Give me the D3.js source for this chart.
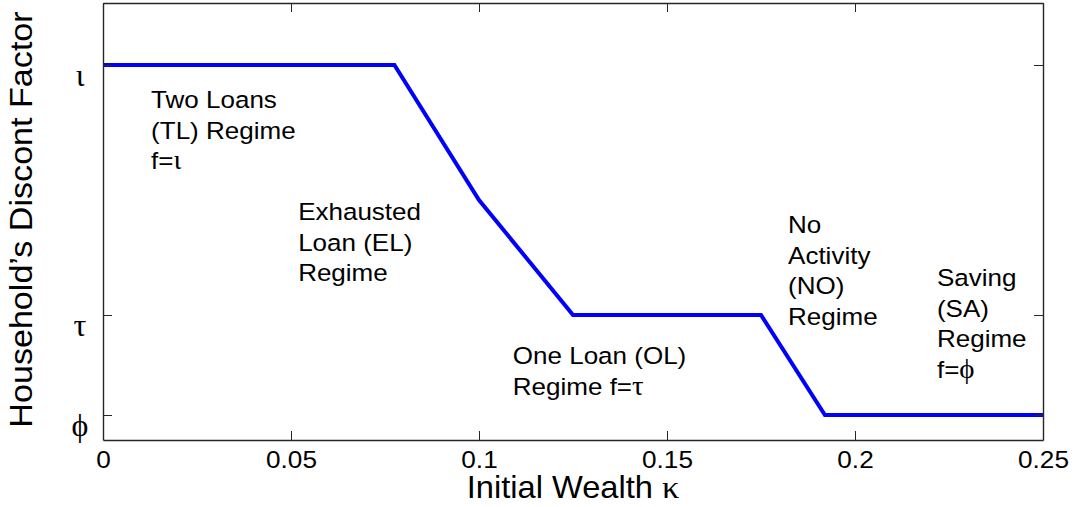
<!DOCTYPE html>
<html>
<head>
<meta charset="utf-8">
<script src="https://cdn.jsdelivr.net/npm/d3@7"></script>
<style>
  html, body { margin: 0; padding: 0; background: #fff; }
  svg { display: block; }
  text { font-family: Arial, "Liberation Sans", Helvetica, sans-serif; fill: #000; }
  .gk { font-family: "Liberation Serif", "DejaVu Serif", serif; }
</style>
</head>
<body>
<svg id="chart" width="1076" height="507"></svg>
<script>
// ---- data ----
const kappa = [0, 0.0775, 0.1, 0.125, 0.175, 0.192, 0.25];
const discount = [0.97, 0.97, 0.943, 0.92, 0.92, 0.90, 0.90];
const xTicks = [0, 0.05, 0.1, 0.15, 0.2, 0.25];
const xTickLabels = ["0", "0.05", "0.1", "0.15", "0.2", "0.25"];
const yTicks = [0.90, 0.92, 0.97];
const yTickLabels = ["ϕ", "τ", "ι"];
const regimeLines = [
  [["Two Loans"], ["(TL) Regime"], ["f=", "ι"]],
  [["Exhausted"], ["Loan (EL)"], ["Regime"]],
  [["One Loan (OL)"], ["Regime f=", "τ"]],
  [["No"], ["Activity"], ["(NO)"], ["Regime"]],
  [["Saving"], ["(SA)"], ["Regime"], ["f=", "ϕ"]]
];
const regimeX = [0.0128, 0.0519, 0.109, 0.1822, 0.2218];
const regimeY = [0.9614, 0.939, 0.9102, 0.9364, 0.9258];

// ---- layout ----
const svg = d3.select("#chart");
const L = 103, R = 1043, T = 3, B = 440;
const x = d3.scaleLinear().domain([0, 0.25]).range([L, R]);
const y = d3.scaleLinear().domain([0.895, 0.9824]).range([B, T]);
const STRETCH = 1.08;

function stretch(sel, f) {
  sel.each(function () {
    const len = this.getComputedTextLength();
    d3.select(this).attr("textLength", len * (f || STRETCH)).attr("lengthAdjust", "spacingAndGlyphs");
  });
}

// line
const line = d3.line().x((d, i) => x(kappa[i])).y((d, i) => y(discount[i]));
svg.append("path")
  .datum(discount)
  .attr("d", line)
  .attr("fill", "none")
  .attr("stroke", "#0000ff")
  .attr("stroke-width", 4)
  .attr("stroke-linejoin", "miter");

// axes (box with inward ticks on all sides)
const axColor = "#262626";
const tickLen = 9;
const gB = svg.append("g").attr("transform", `translate(0,${B})`)
  .call(d3.axisBottom(x).tickValues(xTicks).tickFormat((d, i) => xTickLabels[i]).tickSizeInner(-tickLen).tickSizeOuter(0));
const gT = svg.append("g").attr("transform", `translate(0,${T})`)
  .call(d3.axisTop(x).tickValues(xTicks).tickFormat("").tickSizeInner(-tickLen).tickSizeOuter(0));
const gL = svg.append("g").attr("transform", `translate(${L},0)`)
  .call(d3.axisLeft(y).tickValues(yTicks).tickFormat("").tickSizeInner(-tickLen).tickSizeOuter(0));
const gR = svg.append("g").attr("transform", `translate(${R},0)`)
  .call(d3.axisRight(y).tickValues(yTicks).tickFormat("").tickSizeInner(-tickLen).tickSizeOuter(0));
[gB, gT, gL, gR].forEach(g => {
  g.select(".domain").attr("stroke", axColor).attr("stroke-width", 1.4);
  g.selectAll(".tick line").attr("stroke", axColor).attr("stroke-width", 1);
});
gB.selectAll(".tick text")
  .attr("font-family", "Arial, 'Liberation Sans', sans-serif")
  .attr("font-size", 24)
  .attr("fill", "#000")
  .attr("dy", null)
  .attr("y", 27.5)
  .call(stretch, 1.09);

// y tick labels (greek)
svg.append("g").selectAll("text")
  .data(yTicks)
  .join("text")
  .attr("class", "gk")
  .attr("x", 80)
  .attr("y", d => y(d) + 21)
  .attr("text-anchor", "middle")
  .attr("font-size", 32)
  .text((d, i) => yTickLabels[i]);

// axis labels
const xl = svg.append("text")
  .attr("x", (L + R) / 2)
  .attr("y", 498)
  .attr("text-anchor", "middle")
  .attr("font-size", 30.5);
xl.append("tspan").text("Initial Wealth ");
xl.append("tspan").attr("class", "gk").attr("font-size", 32).text("κ");
stretch(xl, 1.07);

const yl = svg.append("text")
  .attr("transform", `translate(32,${(T + B) / 2 - 2}) rotate(-90)`)
  .attr("text-anchor", "middle")
  .attr("font-size", 31)
  .text("Household’s Discont Factor");
stretch(yl, 1.1);

// regime annotations
const lineH = 30.5;
regimeLines.forEach((lines, k) => {
  const g = svg.append("g");
  lines.forEach((parts, j) => {
    const t = g.append("text")
      .attr("x", x(regimeX[k]))
      .attr("y", y(regimeY[k]) + j * lineH)
      .attr("font-size", 24.3);
    parts.forEach((p, m) => {
      const sp = t.append("tspan").text(p);
      if (m === 1) sp.attr("class", "gk").attr("font-size", 27);
    });
    stretch(t, 1.07);
  });
});
</script>
</body>
</html>
